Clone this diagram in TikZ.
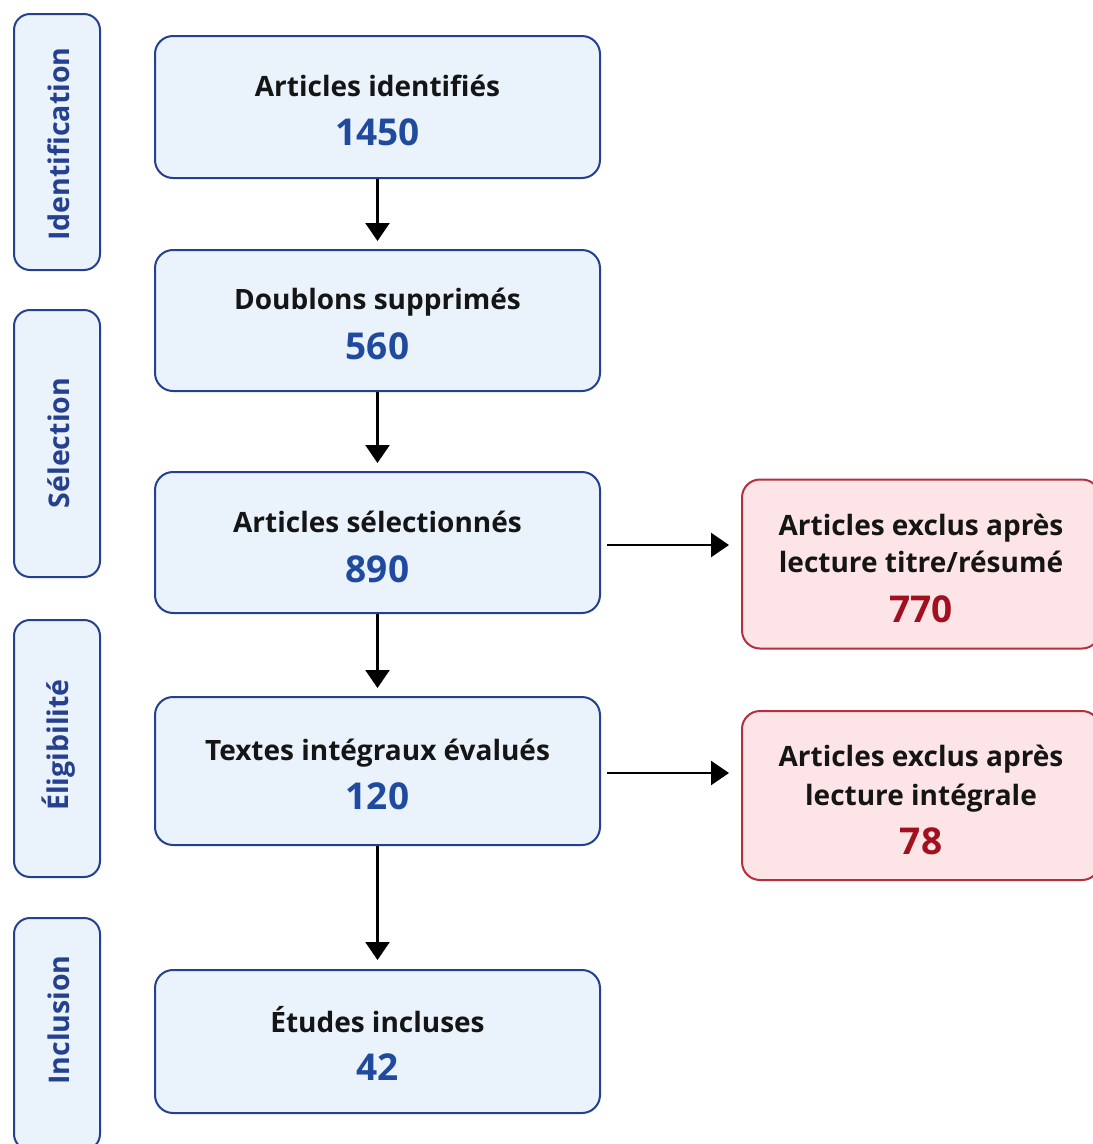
\documentclass[tikz,border=0pt]{standalone}
\usepackage{fontspec}
\setmainfont{Open Sans}
\usetikzlibrary{arrows.meta}
\definecolor{boxblue}{HTML}{EAF2FC}
\definecolor{edgeblue}{HTML}{25408F}
\definecolor{numblue}{HTML}{1F4A9E}
\definecolor{boxred}{HTML}{FCE4E7}
\definecolor{edgered}{HTML}{B3303C}
\definecolor{numred}{HTML}{A0101E}
\definecolor{inkdark}{HTML}{151515}
\tikzset{
  stagebox/.style={draw=edgeblue, fill=boxblue, line width=2pt, rounded corners=16pt,
    minimum width=86pt, inner sep=0pt},
  stagetext/.style={rotate=90, text=edgeblue, inner sep=0pt, font=\fontsize{28.5}{32}\selectfont\bfseries},
  flowbox/.style={draw=edgeblue, fill=boxblue, line width=2pt, rounded corners=18pt,
    minimum width=445pt, inner sep=0pt},
  exbox/.style={draw=edgered, fill=boxred, line width=2pt, rounded corners=18pt,
    minimum width=358pt, inner sep=0pt},
  titletext/.style={anchor=base, inner sep=0pt, text=inkdark, font=\fontsize{28}{32}\selectfont\bfseries},
  bluenum/.style={anchor=base, inner sep=0pt, text=numblue, font=\fontsize{37}{42}\selectfont\bfseries},
  rednum/.style={anchor=base, inner sep=0pt, text=numred, font=\fontsize{37}{42}\selectfont\bfseries},
  arr/.style={line width=2.5pt, -{Triangle[length=18pt,width=24pt]}},
}
\begin{document}
\begin{tikzpicture}[x=1pt,y=-1pt]
\useasboundingbox[fill=white] (0,0) rectangle (1093,1144);
% stage boxes
\node[stagebox, minimum height=256pt] (s1) at (57,142) {};
\node[stagetext] (t1) at (59,144) {Identification};
\node[stagebox, minimum height=267pt] (s2) at (57,443.5) {};
\node[stagetext] (t2) at (59,443) {Sélection};
\node[stagebox, minimum height=257pt] (s3) at (57,748.5) {};
\node[stagetext] (t3) at (59,745) {Éligibilité};
\node[stagebox, minimum height=232pt] (s4) at (57,1034) {};
\node[stagetext] (t4) at (59,1020) {Inclusion};
% main flow
\node[flowbox, minimum height=142pt] (b1) at (377.5,107) {};
\node[titletext] (b1t) at (377.5,96) {Articles identifiés};
\node[bluenum] (b1n) at (377.5,145) {1450};
\node[flowbox, minimum height=141pt] (b2) at (377.5,320.5) {};
\node[titletext] (b2t) at (377.5,309) {Doublons supprimés};
\node[bluenum] (b2n) at (377.5,359) {560};
\node[flowbox, minimum height=141pt] (b3) at (377.5,542.5) {};
\node[titletext] (b3t) at (377.5,532) {Articles sélectionnés};
\node[bluenum] (b3n) at (377.5,582) {890};
\node[flowbox, minimum height=148pt] (b4) at (377.5,771) {};
\node[titletext] (b4t) at (377.5,760) {Textes intégraux évalués};
\node[bluenum] (b4n) at (377.5,809) {120};
\node[flowbox, minimum height=143pt] (b5) at (377.5,1041.5) {};
\node[titletext] (b5t) at (377.5,1032) {Études incluses};
\node[bluenum] (b5n) at (377.5,1080) {42};
% exclusions
\node[exbox, minimum height=169pt] (r1) at (921,564) {};
\node[titletext] (r1a) at (921,535) {Articles exclus après};
\node[titletext] (r1b) at (921,572) {lecture titre/résumé};
\node[rednum] (r1n) at (921,622) {770};
\node[exbox, minimum height=169pt] (r2) at (921,795.5) {};
\node[titletext] (r2a) at (921,766) {Articles exclus après};
\node[titletext] (r2b) at (921,805) {lecture intégrale};
\node[rednum] (r2n) at (921,854) {78};
% arrows
\coordinate (h1s) at (607,545);
\coordinate (h1e) at (729,545);
\coordinate (h2s) at (607,773);
\coordinate (h2e) at (729,773);
\draw[arr] (b1.south) -- ([yshift=8pt]b2.north);
\draw[arr] (b2.south) -- ([yshift=8pt]b3.north);
\draw[arr] (b3.south) -- ([yshift=8pt]b4.north);
\draw[arr] (b4.south) -- ([yshift=9pt]b5.north);
\draw[arr] (h1s) -- (h1e);
\draw[arr] (h2s) -- (h2e);
\end{tikzpicture}
\end{document}
